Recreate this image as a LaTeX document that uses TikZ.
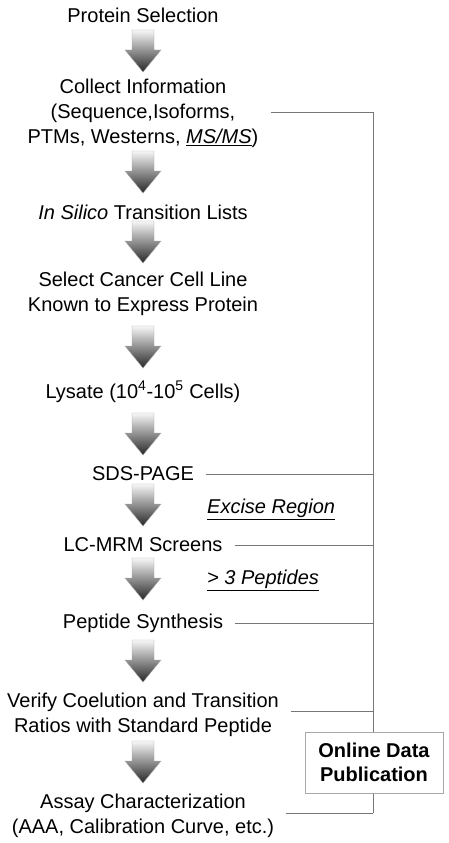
\documentclass[tikz,border=0pt]{standalone}
\usepackage{fontspec}
\setmainfont{Liberation Sans}
\usetikzlibrary{calc,positioning}
\definecolor{color_line_default}{HTML}{777777}
\definecolor{color_box_default}{HTML}{a8a8a8}
\definecolor{color_arrow_top}{HTML}{f7f7f7}
\definecolor{color_arrow_bottom}{HTML}{262626}

\tikzset{
	stage/.style={align=center,inner sep=0,font=\fontsize{20}{25}\selectfont},
	note/.style={anchor=west,inner sep=0,font=\fontsize{20}{25}\selectfont\itshape},
	link/.style={color_line_default,line width=0.8pt},
	blockarrow/.style={draw=color_box_default,line width=0.4pt,
		top color=color_arrow_top,bottom color=color_arrow_bottom},
}

\begin{document}
\begin{tikzpicture}[x=1pt,y=-1pt]
				\useasboundingbox (0,0) rectangle (448,843);
				% Points
				\coordinate (bus) at (373,0);
				
				% Steps
				\node[stage] (sel) at (143,15) {Protein Selection};
				\node[stage] (info) at (143,113) {Collect Information\\(Sequence,Isoforms,\\PTMs, Westerns, \underline{\textit{MS/MS}})};
				\node[stage] (silico) at (143,212) {\textit{In Silico} Transition Lists};
				\node[stage] (cell) at (143,294) {Select Cancer Cell Line\\Known to Express Protein};
				\node[stage] (lys) at (143,392) {Lysate (10\textsuperscript{4}-10\textsuperscript{5} Cells)};
				\node[stage] (sds) at (143,474) {SDS-PAGE};
				\node[stage] (lcmrm) at (143,545) {LC-MRM Screens};
				\node[stage] (synth) at (143,623) {Peptide Synthesis};
				\node[stage] (verify) at (143,715) {Verify Coelution and Transition\\Ratios with Standard Peptide};
				\node[stage] (assay) at (143,816) {Assay Characterization\\(AAA, Calibration Curve, etc.)};
				
				% Arrows
				\foreach \t in {30,151,221,326,413,484,558,640,741}
					\path[blockarrow,shift={(143,\t)}]
					(-11,0) -- (11,0) -- (11,20) -- (18,20) -- (0,42) -- (-18,20) -- (-11,20) -- cycle;
				
				% Notes
				\node[note] (excise) at (207,509) {\underline{Excise Region}};
				\node[note] (pept) at (207,580) {\underline{> 3 Peptides}};
				
				% Publication lines
				\draw[link] ([yshift=1pt]info.east -| bus) -- ([yshift=3pt]assay.east -| bus);
				\foreach \s/\d in {info/1,sds/0,lcmrm/0,synth/0,verify/4,assay/3}
					\draw[link] ([xshift=12pt,yshift=\d pt]\s.east) -- ([yshift=\d pt]\s.east -| bus);
				\node[draw=color_box_default,line width=0.8pt,fill=white,
					minimum width=138pt,minimum height=61pt,align=center,
					font=\fontsize{20}{24}\selectfont\bfseries]
					(pub) at (374,762.5) {Online Data\\Publication};
			\end{tikzpicture}
\end{document}
